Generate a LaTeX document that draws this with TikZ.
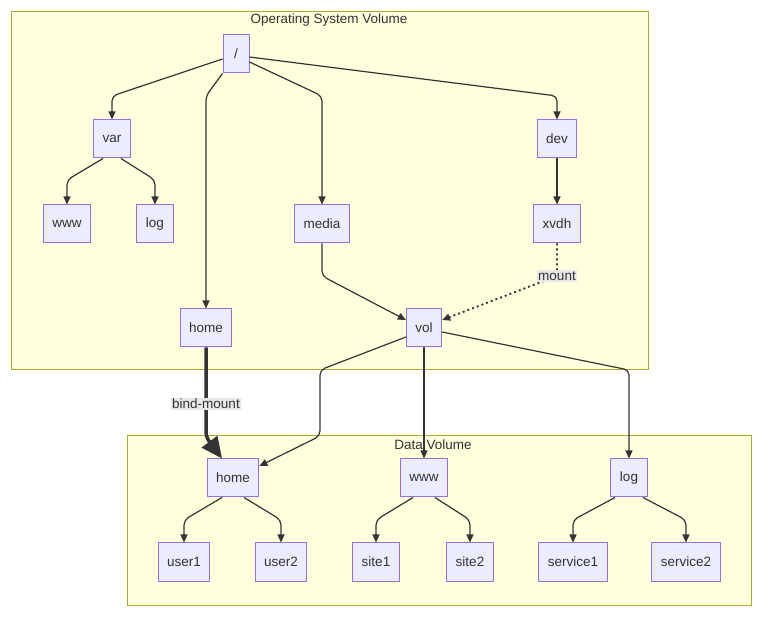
\documentclass[tikz,border=0pt]{standalone}
\usepackage{fontspec}
\setmainfont{Liberation Sans}
\usepackage{tikz}
\usetikzlibrary{arrows.meta, positioning, calc}
\definecolor{nodefill}{HTML}{ECECFF}
\definecolor{nodeline}{HTML}{9370DB}
\definecolor{clusterfill}{HTML}{FFFFDE}
\definecolor{clusterline}{HTML}{AAAA33}
\definecolor{edgecol}{HTML}{333333}
\definecolor{labelfill}{HTML}{E8E8E8}
\definecolor{textgray}{HTML}{333333}

\begin{document}
\begin{tikzpicture}[
  x=1pt, y=-1pt,
  fs/.style={rectangle, draw=nodeline, fill=nodefill, line width=1pt,
             minimum width=26pt, minimum height=38pt, inner xsep=9pt,
             font=\fontsize{13.5}{15}\selectfont\color{textgray}},
  cluster/.style={rectangle, draw=clusterline, fill=clusterfill, line width=1pt},
  title/.style={font=\fontsize{13.5}{15}\selectfont\color{textgray}},
  edge/.style={-{Triangle[length=8pt, width=7pt]}, line width=1.2pt,
               draw=edgecol, rounded corners=5pt},
  mountedge/.style={edge, line width=1.8pt, dash pattern=on 2pt off 3pt},
  bindedge/.style={edge, line width=3.5pt, -{Triangle[length=21pt, width=19pt]}},
  edgelabel/.style={fill=labelfill, inner sep=1.5pt,
                    font=\fontsize{13.5}{15}\selectfont\color{textgray}}
]
  \useasboundingbox (0,0) rectangle (761,617);

  % clusters
  \node[cluster, minimum width=637pt, minimum height=358pt] (osvol) at (329.5,191) {};
  \node[title] (ostitle) at (329,20) {Operating System Volume};
  \node[cluster, minimum width=624pt, minimum height=169pt] (datavol) at (439,520.5) {};
  \node[title] (datatitle) at (433,445) {Data Volume};

  % operating system tree
  \node[fs] (root) at (236,54) {/};
  \node[fs] (var) at (112,139) {var};
  \node[fs] (dev) at (557,139) {dev};
  \node[fs] (www) at (67,224) {www};
  \node[fs] (olog) at (155,224) {log};
  \node[fs] (media) at (322,224) {media};
  \node[fs] (xvdh) at (557,224) {xvdh};
  \node[fs] (ohome) at (206,328) {home};
  \node[fs] (vol) at (424,328) {vol};

  % data volume tree
  \node[fs] (dhome) at (233,478) {home};
  \node[fs] (dwww) at (424,478) {www};
  \node[fs] (dlog) at (629,478) {log};
  \node[fs] (user1) at (184,562) {user1};
  \node[fs] (user2) at (281,562) {user2};
  \node[fs] (site1) at (376,562) {site1};
  \node[fs] (site2) at (470,562) {site2};
  \node[fs] (service1) at (573,562) {service1};
  \node[fs] (service2) at (686,562) {service2};

  % edges from /
  \draw[edge] ($(root.west)+(0,5)$) -- (var.north |- 0,96) -- (var.north);
  \draw[edge] (root.south west) -- (ohome.north |- 0,96) -- (ohome.north);
  \draw[edge] ($(root.east)+(0,8)$) -- (media.north |- 0,96) -- (media.north);
  \draw[edge] ($(root.east)+(0,3)$) -- (dev.north |- 0,96) -- (dev.north);

  \draw[edge] ($(var.south)+(-9,0)$) -- (www.north |- 0,180) -- (www.north);
  \draw[edge] ($(var.south)+(9,0)$) -- (olog.north |- 0,180) -- (olog.north);
  \draw[edge] (dev) -- (xvdh);

  % into vol
  \coordinate (mnt) at (557,276);
  \draw[edge] (media.south) -- (media.south |- mnt) -- ($(vol.west)+(0,-8)$);
  \draw[mountedge] (xvdh.south) -- (mnt) -- ($(vol.east)+(0,-8)$);
  \node[edgelabel] (mountlbl) at (mnt) {mount};

  % bind mount
  \draw[bindedge] (ohome.south) -- (206,437) -- ($(dhome.north)+(-11,0)$);
  \node[edgelabel] (bindlbl) at (206,404) {bind-mount};

  % out of vol
  \draw[edge] ($(vol.west)+(0,9)$) -- (320,370) -- (320,436) -- ($(dhome.east)+(0,-12)$);
  \draw[edge] (vol) -- (dwww);
  \draw[edge] ($(vol.east)+(0,4)$) -- (dlog.north |- 0,370) -- (dlog.north);

  % data volume leaves
  \draw[edge] ($(dhome.south)+(-11,0)$) -- (user1.north |- 0,520) -- (user1.north);
  \draw[edge] ($(dhome.south)+(11,0)$) -- (user2.north |- 0,520) -- (user2.north);
  \draw[edge] ($(dwww.south)+(-11,0)$) -- (site1.north |- 0,520) -- (site1.north);
  \draw[edge] ($(dwww.south)+(11,0)$) -- (site2.north |- 0,520) -- (site2.north);
  \draw[edge] ($(dlog.south)+(-14,0)$) -- (service1.north |- 0,520) -- (service1.north);
  \draw[edge] ($(dlog.south)+(14,0)$) -- (service2.north |- 0,520) -- (service2.north);
\end{tikzpicture}
\end{document}
